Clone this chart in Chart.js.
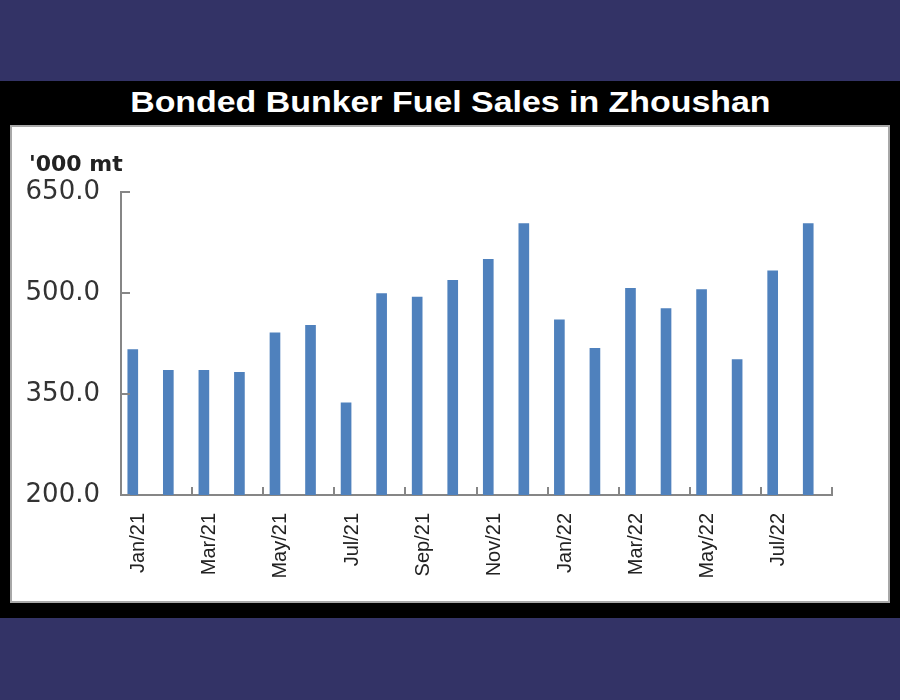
<!DOCTYPE html>
<html>
<head>
<meta charset="utf-8">
<script src="https://cdn.jsdelivr.net/npm/chart.js@4"></script>
<style>
  body { margin: 0; width: 900px; height: 700px; background: #333366; position: relative; overflow: hidden; }
  #band { position: absolute; left: 0; top: 81px; width: 900px; height: 537px; background: #000; }
  #title { position: absolute; left: 0; top: 85px; width: 900px; height: 40px; line-height: 40px; text-align: center;
           color: #fff; font: bold 30px "Liberation Sans", Arial, sans-serif; }
  #title span { display: inline-block; transform: scaleX(1.13); }
  #panel { position: absolute; left: 10px; top: 125px; width: 880px; height: 478px; background: #fff;
           border: 2px solid #a8a8a8; box-sizing: border-box; }
  #unit { position: absolute; left: 17px; top: 24px; font: bold 22px "DejaVu Sans", sans-serif; color: #222; }
  #itemChart { position: absolute; left: 0; top: 0; }
</style>
</head>
<body>
<div id="band"></div>
<div id="title"><span>Bonded Bunker Fuel Sales in Zhoushan</span></div>
<div id="panel">
  <canvas id="itemChart" width="876" height="474"></canvas>
  <div id="unit">'000 mt</div>
</div>
<script>
const months = ['Jan/21', 'Feb/21', 'Mar/21', 'Apr/21', 'May/21', 'Jun/21', 'Jul/21', 'Aug/21', 'Sep/21', 'Oct/21',
                'Nov/21', 'Dec/21', 'Jan/22', 'Feb/22', 'Mar/22', 'Apr/22', 'May/22', 'Jun/22', 'Jul/22', 'Aug/22'];
const sales = [416, 385, 385, 382, 441, 452, 337, 499, 494, 519,
               550, 603, 460, 418, 507, 477, 505, 401, 533, 603];
// empty second series, as in the source sheet (shifts the bars left of centre)
const spacer = months.map(() => null);
const yTicks = [200, 350, 500, 650];

const axisGrey = '#868686';

// ticks pointing into the plot area
const innerTicks = {
    id: 'innerTicks',
    afterDraw(chart) {
        const ctx = chart.ctx;
        const x = chart.scales.x;
        const y = chart.scales.y;
        const area = chart.chartArea;
        ctx.save();
        ctx.strokeStyle = axisGrey;
        ctx.lineWidth = 2;
        ctx.beginPath();
        yTicks.forEach(v => {
            const py = Math.round(y.getPixelForValue(v));
            ctx.moveTo(area.left, py);
            ctx.lineTo(area.left + 9, py);
        });
        for (let i = 1.5; i < months.length; i += 2) {
            const px = Math.round(x.getPixelForValue(i));
            ctx.moveTo(px, area.bottom);
            ctx.lineTo(px, area.bottom - 8);
        }
        ctx.stroke();
        ctx.restore();
    }
};

const ctx = document.getElementById('itemChart').getContext('2d');
const chart = new Chart(ctx, {
    type: 'bar',
    data: {
        labels: months,
        datasets: [{
            label: 'Sales',
            data: sales,
            backgroundColor: '#4F81BD',
            barThickness: 12,
            maxBarThickness: 10
        }, {
            label: '',
            data: spacer,
            backgroundColor: '#4F81BD',
            barThickness: 12,
            maxBarThickness: 10
        }]
    },
    options: {
        responsive: false,
        animation: false,
        devicePixelRatio: 1,
        layout: { padding: { top: 65, right: 56, bottom: 0, left: 0 } },
        plugins: {
            legend: { display: false },
            tooltip: { enabled: false }
        },
        scales: {
            x: {
                afterFit: s => { s.height = 106; },
                border: { color: axisGrey, width: 2 },
                grid: { display: false, drawTicks: false },
                ticks: {
                    autoSkip: false,
                    minRotation: 90,
                    maxRotation: 90,
                    padding: 18,
                    color: '#222',
                    font: { family: '"Liberation Sans", Arial, sans-serif', size: 20 },
                    callback: (v, i) => (i % 2 === 0 ? months[i] : '')
                }
            },
            y: {
                min: 200,
                max: 650,
                afterFit: s => { s.width = 109; },
                afterBuildTicks: s => { s.ticks = yTicks.map(v => ({ value: v })); },
                border: { color: axisGrey, width: 2 },
                grid: { display: false, drawTicks: false },
                ticks: {
                    padding: 21,
                    color: '#333',
                    font: { family: '"DejaVu Sans", sans-serif', size: 26 },
                    callback: v => v.toFixed(1)
                }
            }
        }
    },
    plugins: [innerTicks]
});
</script>
</body>
</html>
